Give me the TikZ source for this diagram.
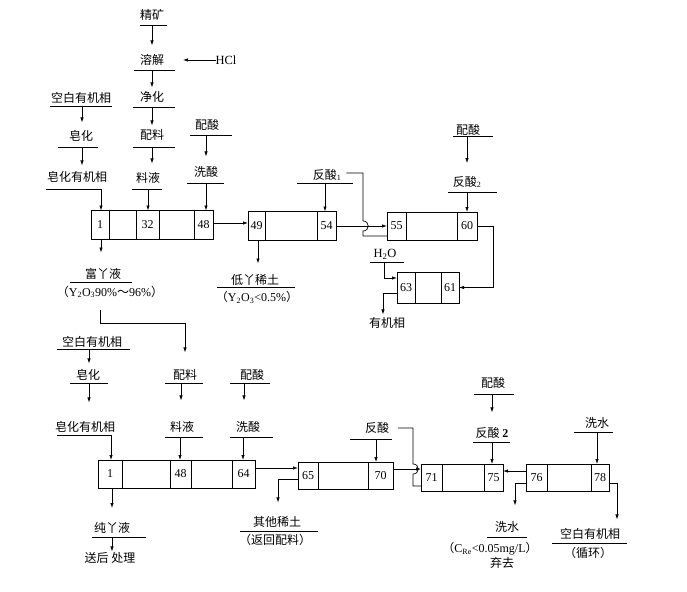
\documentclass[tikz,border=0pt]{standalone}
\usepackage{fontspec}
\setmainfont{Liberation Serif}
\newfontfamily\cjk{Noto Sans CJK SC}
\usetikzlibrary{arrows.meta,calc}
\begin{document}
\begin{tikzpicture}[x=1pt,y=-1pt,
  lab/.style={inner sep=0pt, outer sep=0pt, font=\fontsize{12}{13}\cjk},
  lat/.style={inner sep=0pt, outer sep=0pt, font=\fontsize{12.5}{13}\rmfamily},
  cell/.style={draw, line width=0.9pt, inner sep=0pt, outer sep=0pt, font=\fontsize{12}{12}\rmfamily},
  arr/.style={line width=0.7pt, -{Latex[length=5pt,width=3.4pt]}},
  ln/.style={line width=0.7pt},
  ul/.style={line width=0.8pt}]
\useasboundingbox[fill=white] (0,0) rectangle (687,591);

% ================= TOP SECTION =================
\node[lab] (jk) at (152,15) {精矿};
\draw[ul] (140,25) -- (167,25);
\coordinate (u1) at (152,25);
\node[lab] (rj) at (152,60) {溶解};
\draw[ul] (134,70) -- (175,70);
\coordinate (u2) at (152,70);
\node[lat] (hcl) at (226,60) {HCl};
\node[lab] (jh) at (152,97) {净化};
\draw[ul] (133,107) -- (175,107);
\coordinate (u3) at (152,107);
\node[lab] (pl) at (152,135) {配料};
\draw[ul] (133,147) -- (175,147);
\coordinate (u4) at (152,147);
\node[lab] (ly) at (148,178) {料液};
\draw[ul] (132,189) -- (162,189);
\coordinate (u5) at (148,189);

\draw[arr] (u1) -- ($(u1 |- rj.north)+(0,-9)$);
\draw[arr] (hcl.west) -- ($(rj.east)+(19,0)$);
\draw[arr] (u2) -- ($(u2 |- jh.north)+(0,-4)$);
\draw[arr] (u3) -- ($(u3 |- pl.north)+(0,-4)$);
\draw[arr] (u4) -- ($(u4 |- ly.north)+(0,-9)$);

\node[lab] (kb) at (81,98) {空白有机相};
\draw[ul] (50,106) -- (112,106);
\coordinate (u6) at (82,106);
\node[lab] (zh) at (81,136) {皂化};
\draw[ul] (58,147) -- (98,147);
\coordinate (u7) at (82,147);
\node[lab] (zy) at (77,177) {皂化有机相};
\draw[ul] (46,189) -- (102,189);
\coordinate (u8) at (101,189);
\draw[arr] (u6) -- ($(u6 |- zh.north)+(0,-8)$);
\draw[arr] (u7) -- ($(u7 |- zy.north)+(0,-6)$);

\node[lab] (ps) at (207,125) {配酸};
\draw[ul] (190,135) -- (232,135);
\coordinate (u9) at (206,135);
\node[lab] (xs) at (206,172) {洗酸};
\draw[ul] (187,183) -- (224,183);
\coordinate (u10) at (206,183);
\draw[arr] (u9) -- ($(u9 |- xs.north)+(0,-10)$);

% box A
\node[cell,minimum width=18,minimum height=29] (A1) at (100,225) {1};
\node[cell,minimum width=27,minimum height=29] (A2) at (122.5,225) {};
\node[cell,minimum width=23,minimum height=29] (A3) at (147.5,225) {32};
\node[cell,minimum width=35,minimum height=29] (A4) at (176.5,225) {};
\node[cell,minimum width=19,minimum height=29] (A5) at (203.5,225) {48};
\draw[arr] (u8) -- (u8 |- A1.north);
\draw[arr] (u5) -- (u5 |- A3.north);
\draw[arr] (u10) -- (u10 |- A5.north);

% box B
\node[cell,minimum width=17,minimum height=29] (B1) at (256.5,226) {49};
\node[cell,minimum width=52,minimum height=29] (B2) at (291,226) {};
\node[cell,minimum width=19,minimum height=29] (B3) at (326.5,226) {54};
\draw[arr] ($(A5.east)+(0,-2)$) -- ($(B1.west)+(0,-3)$);

% outputs under A and B
\node[lab] (fy) at (103,274) {富丫液};
\draw[ul] (70,282) -- (132,282);
\node[lab] (fy2) at (110,292) {（{\rmfamily Y\textsubscript{2}O\textsubscript{3}90\%}～{\rmfamily 96\%}）};
\draw[arr] ($(A1.south)+(1,0)$) -- ++(0,13);

\node[lab] (dy) at (255,280) {低丫稀土};
\draw[ul] (217,287) -- (295,287);
\node[lab] (dy2) at (257,297) {（{\rmfamily Y\textsubscript{2}O\textsubscript{3}<0.5\%}）};
\draw[arr] ($(B1.south)+(1.5,0)$) -- ++(0,23);

% 反酸1
\node[lab] (fs1) at (327,175) {反酸\textsubscript{\rmfamily 1}};
\draw[ul] (297,183) -- (353,183);
\coordinate (u11) at (325,183);
\draw[arr] (u11) -- (u11 |- B3.north);

% box C
\node[cell,minimum width=19,minimum height=28] (C1) at (396.5,226) {55};
\node[cell,minimum width=51,minimum height=28] (C2) at (431.5,226) {};
\node[cell,minimum width=20,minimum height=28] (C3) at (467,226) {60};
\draw[arr] (B3.east) -- (C1.west);
\draw[ln] ($(fs1.east)+(5,-2)$) -- (363,173) -- (363,221)
   .. controls (370,221) and (370,231) .. (363,231) -- (363,236) -- ($(C1.south west)+(0,-4)$);

\node[lab] (ps2) at (468,130) {配酸};
\draw[ul] (453,136) -- (493,136);
\coordinate (u12) at (467,136);
\node[lab] (fs2) at (467,182) {反酸\textsubscript{\rmfamily 2}};
\draw[ul] (448,192) -- (497,192);
\coordinate (u13) at (467,192);
\draw[arr] (u12) -- ($(u12 |- fs2.north)+(0,-13)$);
\draw[arr] (u13) -- (u13 |- C3.north);

% box D
\node[cell,minimum width=18,minimum height=31] (D1) at (406,287.5) {63};
\node[cell,minimum width=26,minimum height=31] (D2) at (428,287.5) {};
\node[cell,minimum width=18,minimum height=31] (D3) at (450,287.5) {61};
\draw[arr] (C3.east) -- ++(16,0) |- (D3.east);

\node[lat] (h2o) at (385,254) {H\textsubscript{2}O};
\draw[ul] (370,262) -- (404,262);
\coordinate (u14) at (384,262);
\draw[arr] (u14) |- ($(D1.west)+(0,-9.5)$);
\node[lab] (yj) at (387,323) {有机相};
\draw[arr] ($(D1.west)+(0,5.5)$) -| ($(yj.north)+(-4,-3)$);

% ================= BOTTOM SECTION =================
\node[lab] (kb2) at (92,342) {空白有机相};
\draw[ul] (57,349) -- (130,349);
\coordinate (v1) at (89,349);
\node[lab] (zh2) at (88,375) {皂化};
\draw[ul] (70,383) -- (108,383);
\coordinate (v2) at (89,383);
\node[lab] (zy2) at (85,427) {皂化有机相};
\draw[ul] (57,435) -- (112,435);
\coordinate (v3) at (111,435);
\draw[arr] (v1) -- ($(v1 |- zh2.north)+(0,-6)$);
\draw[arr] (v2) -- ($(v2 |- zy2.north)+(0,-19)$);

\node[lab] (pl2) at (185,375) {配料};
\draw[ul] (165,383) -- (203,383);
\coordinate (v4) at (181,383);
\node[lab] (ly2) at (182,427) {料液};
\draw[ul] (165,437) -- (203,437);
\coordinate (v5) at (180,437);
\draw[arr] (v4) -- ($(v4 |- ly2.north)+(0,-21)$);

\node[lab] (ps3) at (252,375) {配酸};
\draw[ul] (230,383) -- (270,383);
\coordinate (v6) at (244,383);
\node[lab] (xs2) at (248,427) {洗酸};
\draw[ul] (230,437) -- (273,437);
\coordinate (v7) at (243,437);
\draw[arr] (v6) -- ($(v6 |- xs2.north)+(0,-21)$);

% link from upper output to lower feed
\draw[arr] ($(fy2.south)+(-10,12)$) -- ++(0,13) -| ($(pl2.north)+(0,-17)$);

% box E
\node[cell,minimum width=24,minimum height=28] (E1) at (110,474) {1};
\node[cell,minimum width=48,minimum height=28] (E2) at (146,474) {};
\node[cell,minimum width=21,minimum height=28] (E3) at (180.5,474) {48};
\node[cell,minimum width=41,minimum height=28] (E4) at (211.5,474) {};
\node[cell,minimum width=23,minimum height=28] (E5) at (243.5,474) {64};
\draw[arr] (v3) -- (v3 |- E1.north);
\draw[arr] (v5) -- (v5 |- E3.north);
\draw[arr] (v7) -- (v7 |- E5.north);

\node[lab] (cy) at (112,528) {纯丫液};
\draw[ul] (92,537) -- (146,537);
\coordinate (v8) at (112,537);
\node[lab] (sh) at (110,558) {送后\ 处理};
\draw[arr] ($(E1.south)+(2,0)$) -- ++(0,20);
\draw[arr] (v8) -- ($(v8 |- sh.north)+(0,-1)$);

% box F
\node[cell,minimum width=20,minimum height=27] (F1) at (308,475.5) {65};
\node[cell,minimum width=50,minimum height=27] (F2) at (343,475.5) {};
\node[cell,minimum width=25,minimum height=27] (F3) at (380.5,475.5) {70};
\draw[arr] ($(E5.east)+(0,-6)$) -- ($(F1.west)+(0,-7.5)$);

\node[lab] (qt) at (277,522) {其他稀土};
\draw[ul] (240,531) -- (318,531);
\node[lab] (qt2) at (275,540) {（返回配料）};
\draw[arr] ($(F1.west)+(0,3.5)$) -| ($(qt.north)+(1,-14)$);

\node[lab] (fs3) at (377,428) {反酸};
\draw[ul] (350,439) -- (392,439);
\coordinate (v9) at (376,439);
\draw[arr] (v9) -- (v9 |- F3.north);

% box G
\node[cell,minimum width=21,minimum height=27] (G1) at (431.5,477.5) {71};
\node[cell,minimum width=42,minimum height=27] (G2) at (463,477.5) {};
\node[cell,minimum width=19,minimum height=27] (G3) at (493.5,477.5) {75};
\draw[arr] ($(F3.east)+(0,-6.5)$) -- ($(G1.west)+(0,-8.5)$);
\draw[ln] ($(fs3.east)+(9,0)$) -- (413,428) -- (413,464)
   .. controls (420,464) and (420,474) .. (413,474) -- (413,486) -- ($(G1.south west)+(0,-5)$);

\node[lab] (ps4) at (493,383) {配酸};
\draw[ul] (474,394) -- (514,394);
\coordinate (v10) at (492,394);
\node[lab] (fs4) at (492,433) {反酸\ {\rmfamily\bfseries 2}};
\draw[ul] (473,442) -- (510,442);
\coordinate (v11) at (492,442);
\draw[arr] (v10) -- ($(v10 |- fs4.north)+(0,-15)$);
\draw[arr] (v11) -- (v11 |- G3.north);

% box H
\node[cell,minimum width=21,minimum height=27] (H1) at (536.5,477.5) {76};
\node[cell,minimum width=44,minimum height=27] (H2) at (569,477.5) {};
\node[cell,minimum width=18,minimum height=27] (H3) at (600,477.5) {78};
\draw[arr] ($(H1.west)+(0,-6.5)$) -- ($(G3.east)+(0,-6.5)$);

\node[lab] (xw) at (597,423) {洗水};
\draw[ul] (574,432) -- (613,432);
\coordinate (v12) at (597,432);
\draw[arr] (v12) -- (v12 |- H3.north);

\node[lab] (xw2) at (507,527) {洗水};
\draw[ul] (487,537) -- (527,537);
\node[lab] (xw3) at (490,549) {（{\rmfamily C\textsubscript{Re}<0.05mg/L}）};
\node[lab] (qq) at (502,563) {弃去};
\draw[arr] ($(H1.west)+(0,5.5)$) -| ($(xw2.north)+(8,-16)$);

\node[lab] (kb3) at (590,534) {空白有机相};
\draw[ul] (552,543) -- (627,543);
\node[lab] (xh) at (588,553) {（循环）};
\draw[arr] ($(H3.east)+(0,5.5)$) -| ($(kb3.north)+(27,-9)$);
\end{tikzpicture}
\end{document}
